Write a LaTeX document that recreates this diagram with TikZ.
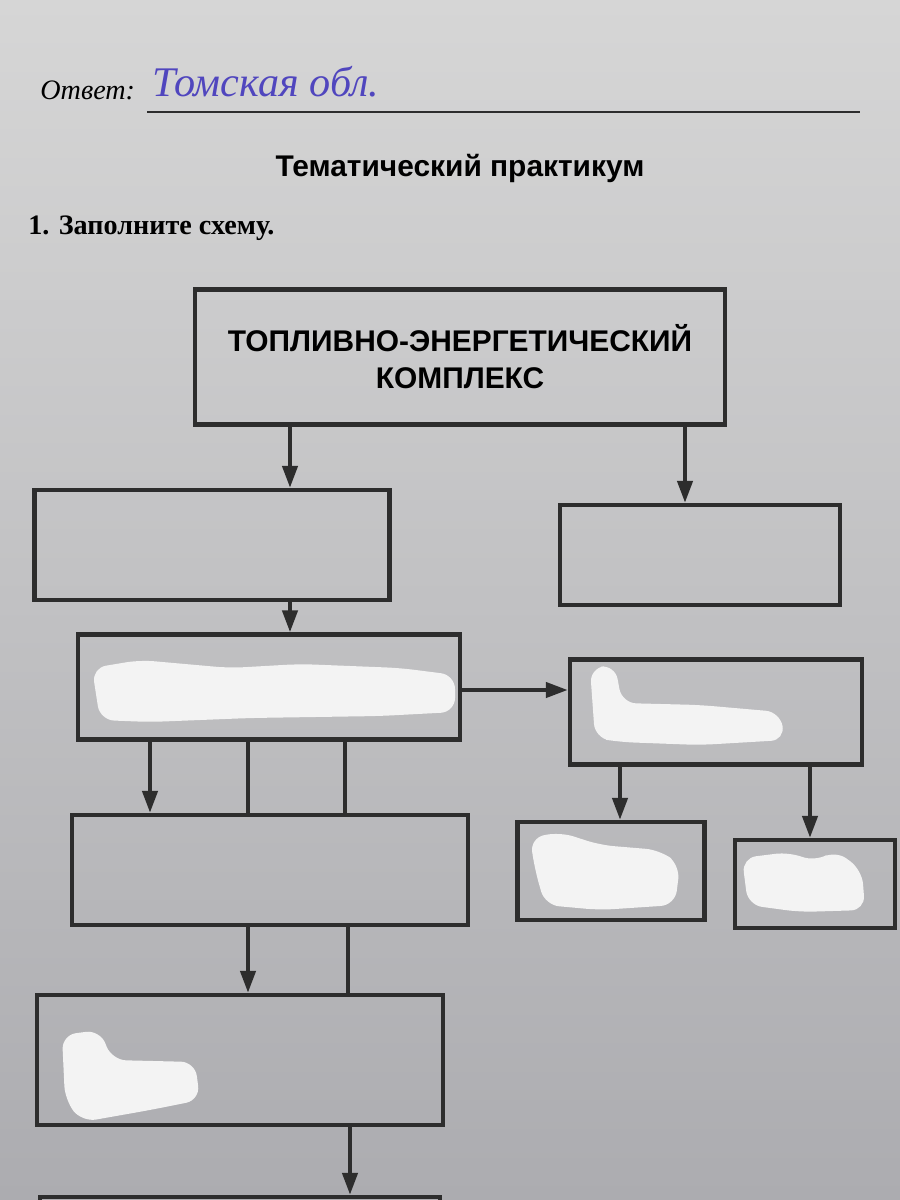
\documentclass[tikz,border=0pt]{standalone}
\usepackage{fontspec}
\setmainfont{Liberation Serif}
\setsansfont{Liberation Sans}
\usetikzlibrary{arrows.meta,positioning}
\definecolor{paperlight}{RGB}{214,214,214}
\definecolor{paperdark}{RGB}{172,172,176}
\definecolor{ink}{RGB}{45,45,45}
\definecolor{pen}{RGB}{80,70,190}
\tikzset{
  tekbox/.style={draw=ink, line width=1.2pt, inner sep=0pt},
  tekarrow/.style={-{Triangle[length=2.2mm,width=1.5mm]}, draw=ink, line width=1.2pt},
  tekline/.style={draw=ink, line width=1.2pt},
  blob/.style={fill=white!70!paperlight, rounded corners=4pt}
}

\begin{document}
\begin{tikzpicture}[x=0.01cm, y=-0.01cm]
  \clip (0,0) rectangle (900,1200);
  \shade[top color=paperlight, bottom color=paperdark] (0,0) rectangle (900,1200);
  % page text above the scheme
  \node[anchor=south west, font=\itshape\fontsize{8}{10}\selectfont] (otvet) at (28,112) {Ответ:};
  \coordinate (lineend) at (860,112);
  \draw[ink, line width=0.6pt] (otvet.south east) -- (otvet.south east -| lineend);
  \node[anchor=south west, font=\itshape\large, text=pen] (hand) at (140,110) {Томская обл.};
  \node[font=\sffamily\bfseries\fontsize{8.5}{10}\selectfont] (title) at (460,168) {Тематический практикум};
  \node[anchor=west, font=\bfseries\fontsize{8}{10}\selectfont] (task) at (16,228) {1. Заполните схему.};

  % boxes
  \node[tekbox, minimum width=5.3cm, minimum height=1.35cm, align=center,
    font=\sffamily\bfseries\fontsize{8.5}{10.5}\selectfont] (tek) at (460,357) {ТОПЛИВНО-ЭНЕРГЕТИЧЕСКИЙ\\КОМПЛЕКС};
  \node[tekbox, minimum width=3.55cm, minimum height=1.1cm] (A) at (212,545) {};
  \node[tekbox, minimum width=2.8cm, minimum height=1.0cm] (B) at (700,555) {};
  \node[tekbox, minimum width=3.82cm, minimum height=1.05cm] (C) at (269,687) {};
  \node[tekbox, minimum width=2.92cm, minimum height=1.05cm] (D) at (716,712) {};
  \node[tekbox, minimum width=3.96cm, minimum height=1.1cm] (E) at (270,870) {};
  \node[tekbox, minimum width=1.87cm, minimum height=0.98cm] (H) at (611,871) {};
  \node[tekbox, minimum width=1.6cm, minimum height=0.88cm] (I) at (815,884) {};
  \node[tekbox, minimum width=4.05cm, minimum height=1.3cm] (F) at (240,1060) {};
  \node[tekbox, minimum width=4.0cm, minimum height=1.2cm] (G) at (240,1257) {};

  % correction fluid
  \fill[blob] (92,668) -- (140,660) -- (230,668) -- (300,664) -- (400,668) -- (455,675)
    -- (455,712) -- (380,716) -- (250,718) -- (150,722) -- (100,720) -- cycle;
  \fill[blob] (590,668) -- (615,665) -- (622,703) -- (700,705) -- (780,712) -- (785,740)
    -- (700,745) -- (620,742) -- (595,738) -- cycle;
  \fill[blob] (530,838) -- (560,832) -- (600,845) -- (660,850) -- (680,865) -- (675,905)
    -- (600,910) -- (545,905) -- (535,870) -- cycle;
  \fill[blob] (742,858) -- (790,852) -- (815,862) -- (835,850) -- (862,870) -- (865,910)
    -- (800,912) -- (748,905) -- cycle;
  \fill[blob] (62,1035) -- (100,1030) -- (112,1060) -- (195,1062) -- (200,1100)
    -- (150,1110) -- (82,1122) -- (65,1100) -- cycle;

  % connectors
  \draw[tekarrow] (290,0 |- tek.south) -- (290,0 |- A.north);
  \draw[tekarrow] (685,0 |- tek.south) -- (685,0 |- B.north);
  \draw[tekarrow] (290,0 |- A.south) -- (290,0 |- C.north);
  \draw[tekarrow] (C.east |- 0,690) -- (D.west |- 0,690);
  \draw[tekarrow] (150,0 |- C.south) -- (150,0 |- E.north);
  \draw[tekline] (248,0 |- C.south) -- (248,0 |- E.north);
  \draw[tekline] (345,0 |- C.south) -- (345,0 |- E.north);
  \draw[tekarrow] (248,0 |- E.south) -- (248,0 |- F.north);
  \draw[tekline] (348,0 |- E.south) -- (348,0 |- F.north);
  \draw[tekarrow] (350,0 |- F.south) -- (350,0 |- G.north);
  \draw[tekarrow] (620,0 |- D.south) -- (620,0 |- H.north);
  \draw[tekarrow] (810,0 |- D.south) -- (810,0 |- I.north);
\end{tikzpicture}
\end{document}
